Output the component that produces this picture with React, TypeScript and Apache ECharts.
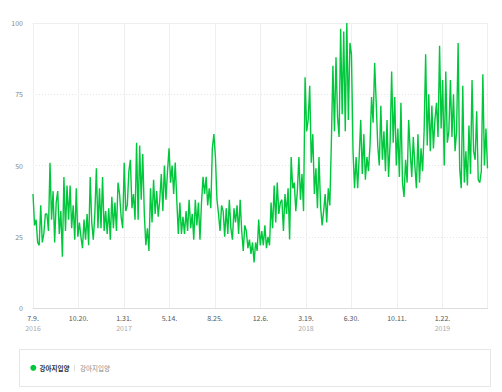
import React, { useEffect, useRef } from "react";
import * as echarts from "echarts";

// Tick labels along the x axis (one every 103 days starting 2016-07-09)
const TICK_LABELS = ["7.9.", "10.20.", "1.31.", "5.14.", "8.25.", "12.6.", "3.19.", "6.30.", "10.11.", "1.22."];
const TICK_YEARS = ["2016", "", "2017", "", "", "", "2018", "", "", "2019"];
const TICK_STEP_DAYS = 103;
const SAMPLE_STEP_DAYS = 3.5;
const LAST_DAY = 1029;
const Y_TICKS = [0, 25, 50, 75, 100];

const SERIES_NAME = "강아지입양";
const SERIES_KEYWORD = "강아지입양";

const VALUES_2016_H2 = [
  40, 29, 31, 23, 22, 36, 23, 26, 33, 33, 27, 51, 31, 41, 23, 37, 41, 26, 34, 18, 46, 27, 43, 31, 43, 28, 36, 24, 42, 25,
  30, 25, 21, 31, 24, 33, 22, 46, 30, 24, 33, 49, 28, 42, 28, 46, 27, 34, 26, 35, 24, 39, 28, 37, 27, 44, 40, 32, 28, 51,
];
const VALUES_2017 = [
  34, 36, 48, 52, 35, 40, 31, 58, 31, 57, 38, 54, 33, 22, 28, 20, 42, 30, 45, 33, 41, 32, 38, 47, 34, 50, 38, 48, 56,
  44, 50, 40, 51, 38, 26, 37, 26, 32, 26, 34, 27, 38, 28, 33, 24, 38, 29, 37, 24, 37, 46, 40, 46, 36, 42, 35, 56, 61,
  53, 38, 33, 27, 36, 34, 25, 35, 26, 38, 28, 24, 35, 30, 36, 26, 38, 27, 20, 29, 27, 21, 24, 19, 23, 16, 23, 20, 31,
];
const VALUES_2018 = [
  22, 27, 22, 29, 21, 25, 22, 37, 28, 43, 30, 44, 33, 37, 38, 27, 40, 33, 42, 24, 53, 42, 44, 34, 41, 53, 38, 47, 34, 81,
  62, 66, 78, 51, 61, 40, 49, 35, 53, 36, 29, 34, 40, 30, 42, 36, 58, 85, 62, 88, 67, 60, 98, 68, 97, 62, 100, 66, 93, 89,
  55, 42, 53, 42, 53, 66, 47, 61, 45, 53, 48, 57, 74, 65, 86, 72, 57, 50, 71, 52, 62, 48, 66, 46, 58, 83, 58, 74, 50,
];
const VALUES_2019 = [
  63, 46, 72, 44, 39, 52, 44, 66, 55, 46, 60, 50, 42, 61, 44, 56, 48, 62, 89, 57, 75, 55, 71, 56, 66, 72, 60, 92, 63,
  80, 50, 83, 58, 62, 80, 60, 75, 55, 62, 93, 49, 42, 78, 44, 55, 43, 64, 47, 80, 55, 52, 69, 45, 44, 48, 82, 50, 63, 49,
];

const VALUES = [...VALUES_2016_H2, ...VALUES_2017, ...VALUES_2018, ...VALUES_2019];

const GREEN = "#00c73c";
const FONT = "'Noto Sans CJK KR', 'Noto Sans', sans-serif";

export default function App() {
  const ref = useRef<HTMLDivElement>(null);

  useEffect(() => {
    if (!ref.current) return;
    const chart = echarts.init(ref.current, null, { renderer: "svg" });
    const data = VALUES.map((v, i) => [i * SAMPLE_STEP_DAYS, v]);

    chart.setOption({
      animation: false,
      backgroundColor: "#ffffff",
      textStyle: { fontFamily: FONT },
      grid: { left: 33, right: 14.5, top: 23, bottom: 84, containLabel: false },
      xAxis: [
        {
          type: "value",
          min: 0,
          max: LAST_DAY,
          interval: TICK_STEP_DAYS,
          axisLine: { show: true, lineStyle: { color: "#dcdcdc", width: 1 } },
          axisTick: { show: false },
          splitLine: { show: true, lineStyle: { color: "#efefef", width: 1 } },
          axisLabel: {
            margin: 5,
            showMaxLabel: false,
            formatter: (val: number) => {
              const k = Math.round(val / TICK_STEP_DAYS);
              const label = TICK_LABELS[k];
              if (label === undefined) return "";
              const year = TICK_YEARS[k];
              return year ? `{d|${label}}\n{y|${year}}` : `{d|${label}}`;
            },
            rich: {
              d: { fontSize: 7, color: "#555", lineHeight: 10, fontFamily: FONT },
              y: { fontSize: 7, color: "#aaa", lineHeight: 10, fontFamily: FONT },
            },
          },
        },
        {
          type: "value",
          position: "top",
          min: 0,
          max: LAST_DAY,
          axisLine: { show: true, lineStyle: { color: "#efefef", width: 1 } },
          axisTick: { show: false },
          axisLabel: { show: false },
          splitLine: { show: false },
        },
      ],
      yAxis: {
        type: "value",
        min: Y_TICKS[0],
        max: Y_TICKS[Y_TICKS.length - 1],
        interval: 25,
        axisLine: { show: false },
        axisTick: { show: false },
        axisLabel: { color: "#888", fontSize: 7, margin: 10, fontFamily: FONT },
        splitLine: { show: true, lineStyle: { color: "#e6e6e6", type: [1, 2], width: 1 } },
      },
      series: [
        {
          name: SERIES_NAME,
          type: "line",
          data,
          showSymbol: false,
          symbol: "none",
          lineStyle: { color: GREEN, width: 1.4 },
          itemStyle: { color: GREEN },
        },
      ],
      graphic: [
        {
          type: "rect",
          shape: { x: 19.5, y: 349.5, width: 471, height: 37 },
          style: { fill: "#fff", stroke: "#e6e6e6", lineWidth: 1 },
        },
        {
          type: "circle",
          shape: { cx: 33.3, cy: 367.8, r: 3 },
          style: { fill: GREEN },
        },
        {
          type: "text",
          x: 39.5,
          y: 368,
          style: {
            text: SERIES_NAME,
            fontSize: 6.5,
            fontWeight: "bold",
            fill: "#333",
            fontFamily: FONT,
            verticalAlign: "middle",
            align: "left",
          },
        },
        {
          type: "line",
          shape: { x1: 74.5, y1: 365, x2: 74.5, y2: 371 },
          style: { stroke: "#dddddd", lineWidth: 1 },
        },
        {
          type: "text",
          x: 80,
          y: 368,
          style: {
            text: SERIES_KEYWORD,
            fontSize: 6.5,
            fill: "#888",
            fontFamily: FONT,
            verticalAlign: "middle",
            align: "left",
          },
        },
      ],
    });

    return () => chart.dispose();
  }, []);

  return (
    <div
      ref={ref}
      style={{ position: "fixed", left: 0, top: 0, width: 502, height: 392, background: "#fff" }}
    />
  );
}
